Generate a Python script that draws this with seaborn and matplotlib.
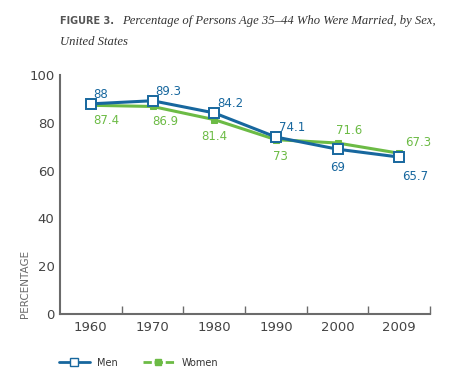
import matplotlib
matplotlib.use('Agg')
import matplotlib.pyplot as plt
from matplotlib.lines import Line2D
from matplotlib.ticker import FixedLocator
import pandas as pd
import seaborn as sns

years = ['1960', '1970', '1980', '1990', '2000', '2009']
men = [88, 89.3, 84.2, 74.1, 69, 65.7]
women = [87.4, 86.9, 81.4, 73, 71.6, 67.3]
men_lbl = ['88', '89.3', '84.2', '74.1', '69', '65.7']
women_lbl = ['87.4', '86.9', '81.4', '73', '71.6', '67.3']

blue = '#17679e'
green = '#6cbb45'
grey = '#6b6b6b'

sns.set_style('white')
plt.rcParams['font.family'] = ['DejaVu Sans']

df = pd.DataFrame({'year': years, 'men': men, 'women': women})

fig = plt.figure(figsize=(4.53, 3.76), dpi=100)
ax = fig.add_axes([0.1325, 0.165, 0.817, 0.635])

sns.lineplot(data=df, x='year', y='women', ax=ax, color=green, linewidth=2.2,
             marker='s', markersize=5, markeredgecolor=green, sort=False)
sns.lineplot(data=df, x='year', y='men', ax=ax, color=blue, linewidth=2.2,
             marker='s', markersize=7, markerfacecolor='white',
             markeredgecolor=blue, markeredgewidth=1.4, sort=False)

ax.set_xlim(-0.5, 5.5)
ax.set_ylim(0, 100)
ax.set_xlabel('')
ax.set_ylabel('')

# men labels
m_off = [(2, 7), (2, 7), (2, 7), (2, 7), (0, -13), (2, -14)]
m_ha = ['left', 'left', 'left', 'left', 'center', 'left']
for i, (v, t) in enumerate(zip(men, men_lbl)):
    ax.annotate(t, (i, v), xytext=m_off[i], textcoords='offset points',
                ha=m_ha[i], va='center', color=blue, fontsize=8.5)
# women labels
w_off = [(2, -11), (0, -11), (0, -12), (3, -12), (8, 9), (4, 8)]
w_ha = ['left', 'left', 'center', 'center', 'center', 'left']
for i, (v, t) in enumerate(zip(women, women_lbl)):
    ax.annotate(t, (i, v), xytext=w_off[i], textcoords='offset points',
                ha=w_ha[i], va='center', color=green, fontsize=8.5)

for s in ['top', 'right']:
    ax.spines[s].set_visible(False)
for s in ['left', 'bottom']:
    ax.spines[s].set_color(grey)
    ax.spines[s].set_linewidth(1.5)

ax.set_yticks([0, 20, 40, 60, 80, 100])
ax.tick_params(axis='y', direction='in', length=6, width=1, color=grey,
               labelsize=9.5, labelcolor='#444444', pad=4)
ax.tick_params(axis='x', which='major', length=0, labelsize=9.5,
               labelcolor='#444444', pad=5)
ax.xaxis.set_minor_locator(FixedLocator([0.5, 1.5, 2.5, 3.5, 4.5, 5.5]))
ax.tick_params(axis='x', which='minor', direction='in', length=6, width=1,
               color=grey, bottom=True)

fig.text(0.055, 0.155, 'PERCENTAGE', rotation=90, ha='center', va='bottom',
         fontsize=7.5, color=grey)

fig.text(0.132, 0.935, 'FIGURE 3.', fontsize=7, fontweight='bold',
         color='#555555', va='baseline')
fig.text(0.27, 0.935, 'Percentage of Persons Age 35\u201344 Who Were Married, by Sex,',
         fontsize=9.1, style='italic', family='Liberation Serif', color='#333333',
         va='baseline')
fig.text(0.132, 0.88, 'United States', fontsize=9.1, style='italic',
         family='Liberation Serif', color='#333333', va='baseline')

handles = [
    Line2D([], [], color=blue, linewidth=2, marker='s', markersize=6,
           markerfacecolor='white', markeredgecolor=blue),
    Line2D([], [], color=green, linewidth=2, linestyle=(0, (3, 1)), marker='s',
           markersize=4, markeredgecolor=green),
]
fig.legend(handles, ['Men', 'Women'], loc='center left',
           bbox_to_anchor=(0.11, 0.035), ncol=2, frameon=False, fontsize=7,
           handlelength=3.2, columnspacing=2.5, labelcolor='#333333')

fig.savefig('out.png', dpi=100)
